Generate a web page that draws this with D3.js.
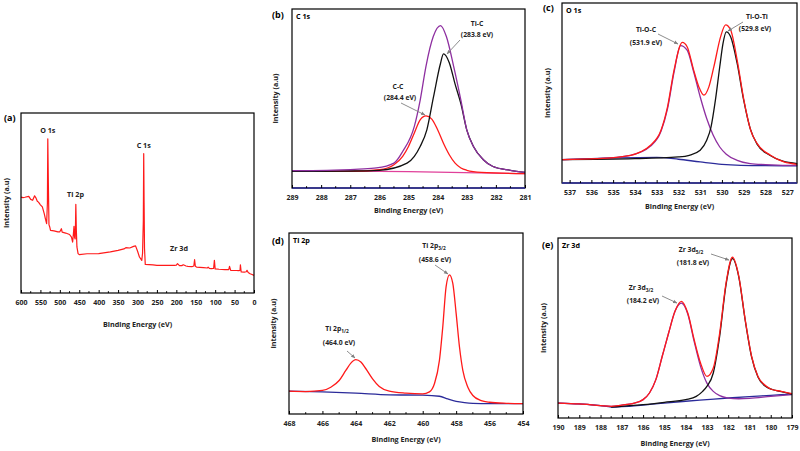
<!DOCTYPE html>
<html><head><meta charset="utf-8">
<script src="https://cdn.jsdelivr.net/npm/d3@7"></script>
<style>
html,body{margin:0;padding:0;background:#fff;}
svg{display:block;font-family:"Open Sans",sans-serif;font-weight:700;}
</style></head>
<body><svg id="chart" width="800" height="451"></svg>
<script>
// ---------------- DATA ----------------
// (a) survey spectrum: [binding energy, intensity]
const surveySpectrum = [[600,53.3],[595,53],[590,53.2],[580,53.7],[575,52],[570,51.5],[565,54],[562,53],[558,51],[555,50.5],[550,49],[545,47.8],[540,44],[537,41],[534,38.5],[532,50],[531,85.7],[529.5,60],[528,38],[526,36.7],[524,34.8],[515,34.5],[505,34],[500,34],[496,35.7],[494,33.8],[485,33.3],[475,32.5],[470,31.1],[467,28.3],[465,33],[463.5,37],[462,31],[460.5,30],[459.5,40],[458.8,49.3],[457.5,35],[456,25.6],[453,21.9],[450,21.3],[430,21.8],[400,21.9],[370,22.8],[350,23.7],[335,24.5],[330,25.2],[320,25],[310,25.9],[305,26.2],[300,23.3],[295,20],[292,19.1],[289,18.1],[287,22],[285,40],[284,77.4],[283,50],[282,25],[280,15.9],[260,15.6],[250,15.4],[220,15.4],[205,15.3],[200,15.5],[197,16.3],[192,15.2],[186,15.2],[182,15.7],[175,15],[170,14.8],[160,14.6],[155,15],[153,18.5],[151,14.8],[148,14.4],[130,14.1],[120,13.9],[118,14.4],[115,13.7],[110,13.5],[104,13.6],[102,18.1],[100,13.4],[90,13.2],[75,13],[65,13],[63,14.8],[60,12.6],[45,12.5],[40,12.4],[36,12.6],[35,15.7],[33,11.7],[25,11.6],[20,11.8],[18,12.6],[15,11.4],[10,10.7],[5,10.3],[0,9.8]];
const surveyLabels = ["O 1s","Ti 2p","C 1s","Zr 3d"];

// (b) C 1s
const c1sEnvelope = [[289,9.7],[287.8,9.9],[286.7,10.6],[286.1,11.2],[285.5,13.9],[285.2,20.4],[284.8,34.4],[284.6,49],[284.4,68],[284.15,84.6],[283.9,90.7],[283.7,84.6],[283.45,68],[283.2,49],[283.0,32.5],[282.77,23.2],[282.43,15.8],[282.1,12],[281.5,9.9],[281,8.7]];
const c1sTiC = [[289,9.3],[287,9.5],[286,9.9],[285.05,13.9],[284.8,17.7],[284.6,23.2],[284.37,32.5],[284.14,51],[283.9,69.7],[283.8,74.9],[283.6,70],[283.4,58],[283.2,47],[283.0,32.5],[282.77,23.2],[282.43,15.8],[282.1,12],[281.5,9.9],[281,8.7]];
const c1sCC = [[289,9.3],[287,9.3],[286,10.2],[285.5,13],[285.2,17.7],[285.0,23.2],[284.8,30.7],[284.6,38.1],[284.4,40.3],[284.2,38.5],[284.0,32.5],[283.8,25],[283.6,18.6],[283.4,13.9],[283.2,11.2],[283,9.9],[282.5,8.7],[281,8]];
const c1sBaseline = [[289,9.7],[285,9.1],[281,8]];

// (c) O 1s
const o1sEnvelope = [[537.34,13],[535.73,13.5],[534.2,15.4],[533.74,17.3],[533.28,21],[532.8,29.3],[532.5,42.3],[532.2,62.7],[531.82,78.1],[531.6,75.7],[531.3,62.7],[531.06,53.4],[530.83,48.8],[530.6,53.4],[530.37,64.6],[530.06,81.3],[529.83,87.8],[529.6,85],[529.3,68.3],[528.99,46],[528.68,29.3],[528.38,21.9],[527.77,15.4],[527.15,11.7],[526.54,10.4]];
const o1sTiOC = [[537.34,13],[535.73,13.5],[534.2,15.4],[533.28,20.5],[532.8,28.7],[532.5,41.3],[532.2,61.6],[531.9,76.3],[531.6,73.8],[531.3,61.8],[531.0,47.9],[530.7,35.8],[530.4,26.5],[530.1,20],[529.8,16],[529.3,12.6],[528.7,10.8],[528,10.2],[527,9.8],[526.54,9.8]];
const o1sTiOTi = [[537.34,13],[534,13.5],[532,14.5],[531.5,15.4],[531,18.2],[530.7,23.7],[530.5,31.2],[530.3,46],[530.1,64.6],[529.95,77.6],[529.8,84],[529.6,81.3],[529.3,66.4],[529.0,46],[528.7,30.2],[528.4,21.9],[527.8,15.4],[527.2,12.1],[526.54,10.8]];
const o1sBaseline = [[537.34,13],[533,14.2],[532,13.2],[531,11.7],[530,10.4],[528,9.6],[526.54,9.5]];

// (d) Ti 2p
const ti2pEnvelope = [[468,12.6],[467,12.4],[466,13],[465.5,14.8],[465,18.5],[464.6,24.1],[464.3,28.1],[464,30],[463.7,28.7],[463.4,25],[463,19.4],[462.6,15.2],[462,12.6],[461,11.5],[460,11.1],[459.6,12.2],[459.3,16.7],[459,29.6],[458.8,48.1],[458.6,70.4],[458.4,76.9],[458.2,72.2],[458,55.6],[457.8,37],[457.6,24.1],[457.3,14.8],[457,10.2],[456.5,7.4],[456,6.5],[455,5.9],[454,5.7]];
const ti2pBaseline = [[468,12.6],[466,12.2],[464,11.5],[462,10.6],[460,10.4],[459,9.8],[458.5,8.3],[458,7],[457.5,6.3],[457,5.9],[456,5.7],[454,5.7]];

// (e) Zr 3d
const zr3dEnvelope = [[190,8.3],[189,7.8],[188,6.9],[187.5,6.5],[187,7.2],[186.5,8],[186,10.2],[185.7,13.9],[185.4,21.3],[185.1,34.3],[184.8,47.2],[184.5,59.3],[184.2,64.8],[183.9,58.3],[183.6,43.5],[183.3,30.6],[183.0,23.1],[182.7,27.8],[182.4,47.2],[182.1,75],[181.8,89.3],[181.5,78.7],[181.2,54.6],[180.9,34.3],[180.6,23.1],[180.2,17.6],[180,16.1],[179.5,14.8],[179,13.5]];
const zr3dPeak32 = [[190,8.3],[189,7.8],[188,6.9],[187.5,6.5],[187,7.2],[186.5,8],[186,10.2],[185.7,13.9],[185.4,21.3],[185.1,34.3],[184.8,47.2],[184.5,59.3],[184.2,63.8],[183.9,57.8],[183.6,42.6],[183.3,28.7],[183,19.4],[182.7,14.8],[182.4,12.4],[182,11.1],[181.5,10.7],[181,10.9],[180,12],[179,13]];
const zr3dPeak52 = [[187.5,6.1],[186,7.4],[185,8.7],[184,10.2],[183.5,12],[183.2,14.8],[183,17.6],[182.7,25],[182.4,45.4],[182.1,74.1],[181.8,88.5],[181.5,78.3],[181.2,54.3],[180.9,33.9],[180.6,22.8],[180.2,17.2],[179.5,14.6],[179,13.3]];
const zr3dBaseline = [[190,8.3],[188,6.9],[187.5,6.1],[186,7.2],[185,8.3],[184,9.3],[183,10.2],[182,11.1],[181,11.9],[180,12.6],[179,13.3]];

// tick labels
const ticksA = [600,550,500,450,400,350,300,250,200,150,100,50,0];
const ticksB = [289,288,287,286,285,284,283,282,281];
const ticksC = [537,536,535,534,533,532,531,530,529,528,527];
const ticksD = [468,466,464,462,460,458,456,454];
const ticksE = [190,189,188,187,186,185,184,183,182,181,180,179];
const panelLetters = ["(a)","(b)","(c)","(d)","(e)"];
const panelTitles = ["","C 1s","O 1s","Ti 2p","Zr 3d"];

// ---------------- DRAW ----------------
const svg = d3.select("#chart");
const RED="#ff1a1a", BLACK="#111", PURPLE="#8e2fa0", BLUE="#2b2b9a", MAG="#e0409a", GRAY="#808080";
const FONT = "'Open Sans',sans-serif";

svg.append("defs").append("marker").attr("id","arr").attr("viewBox","0 0 10 10")
  .attr("refX",9).attr("refY",5).attr("markerWidth",5).attr("markerHeight",5).attr("orient","auto")
  .append("path").attr("d","M0,1 L10,5 L0,9 Z").attr("fill",GRAY);

function txt(g,x,y,s,size,anchor){
  return g.append("text").attr("x",x).attr("y",y).attr("text-anchor",anchor||"middle")
    .attr("font-family",FONT).attr("font-weight",700).attr("font-size",size).attr("fill","#222").text(s);
}

function panel(cfg){
  const g = svg.append("g");
  const x = d3.scaleLinear().domain(cfg.domain).range([cfg.l,cfg.r]);
  const y = d3.scaleLinear().domain([0,100]).range([cfg.b,cfg.t]);
  const line = d3.line().x(d=>x(d[0])).y(d=>y(d[1])).curve(cfg.curve||d3.curveMonotoneX);
  cfg.series.forEach(s=>{
    const pts = s.data.slice().sort((p,q)=>x(p[0])-x(q[0]));
    g.append("path").attr("d",line(pts)).attr("fill","none")
      .attr("stroke",s.color).attr("stroke-width",s.w||1.3).attr("stroke-linejoin","round");
  });
  g.append("rect").attr("x",cfg.l).attr("y",cfg.t).attr("width",cfg.r-cfg.l).attr("height",cfg.b-cfg.t)
    .attr("fill","none").attr("stroke","#000").attr("stroke-width",1.2);
  if(cfg.axisColor){
    g.append("line").attr("x1",cfg.l).attr("x2",cfg.r).attr("y1",cfg.b).attr("y2",cfg.b)
      .attr("stroke",cfg.axisColor).attr("stroke-width",1.4);
  }
  const ax = d3.axisBottom(x).tickValues(cfg.ticks).tickSize(-3).tickPadding(7).tickFormat(d3.format("d"));
  const axg = g.append("g").attr("transform",`translate(0,${cfg.b})`).call(ax);
  axg.select(".domain").remove();
  axg.attr("font-family",FONT).attr("font-size",7);
  axg.selectAll(".tick line").attr("stroke","#000");
  axg.selectAll("text").attr("font-size",7).attr("font-weight",700).attr("fill","#222").attr("font-family",FONT);
  g.selectAll(null).data(cfg.minor).enter().append("line")
    .attr("x1",d=>x(d)).attr("x2",d=>x(d)).attr("y1",cfg.b).attr("y2",cfg.b-1.8).attr("stroke","#000");
  txt(g,(cfg.l+cfg.r)/2,cfg.xt,"Binding Energy (eV)",7.2);
  txt(g,0,0,"Intensity (a.u)",7.2).attr("transform",`translate(${cfg.yx},${(cfg.t+cfg.b)/2}) rotate(-90)`);
  txt(g,cfg.lx,cfg.ly,cfg.letter,9,"start").attr("fill","#000");
  if(cfg.title) txt(g,cfg.l+4,cfg.t+10,cfg.title,7.2,"start").attr("fill","#000");
  return {g,x,y};
}

function range(a,b,s){const r=[];for(let v=a;s>0?v<=b+1e-9:v>=b-1e-9;v+=s)r.push(+v.toFixed(3));return r;}

function subLabel(g,x,y,main,sub){
  const t = txt(g,x,y,"",6.8);
  t.append("tspan").text(main);
  t.append("tspan").attr("font-size",4.8).attr("dy",2).text(sub);
}
function arrow(g,x1,y1,x2,y2){
  g.append("line").attr("x1",x1).attr("y1",y1).attr("x2",x2).attr("y2",y2)
    .attr("stroke",GRAY).attr("stroke-width",0.9).attr("marker-end","url(#arr)");
}

// (a)
const A = panel({l:21,r:254,t:113,b:293,domain:[600,0],ticks:ticksA,minor:range(575,25,-50),
  curve:d3.curveLinear, series:[{data:surveySpectrum,color:RED,w:1.2}],
  xt:327,yx:9,lx:4,ly:121,letter:panelLetters[0]});
[[531,88],[459.5,52],[284,79.5],[193,22]].forEach((p,i)=>{
  txt(A.g,A.x(p[0]),A.y(p[1])-2,surveyLabels[i],7.2);
});

// (b)
const B = panel({l:292,r:525,t:9,b:188,domain:[289,281],ticks:ticksB,minor:range(288.5,281.5,-1),
  series:[{data:c1sBaseline,color:MAG},{data:c1sCC,color:RED},{data:c1sTiC,color:BLACK},{data:c1sEnvelope,color:PURPLE}],
  axisColor:BLUE,xt:213,yx:278,lx:272,ly:18,letter:panelLetters[1],title:panelTitles[1]});
txt(B.g,477,26,"Ti-C",6.8); txt(B.g,477,37,"(283.8 eV)",6.8);
arrow(B.g,460,40,447,54);
txt(B.g,398,89,"C-C",6.8); txt(B.g,400,100,"(284.4 eV)",6.8);
arrow(B.g,401,103,425,115);

// (c)
const C = panel({l:562,r:797,t:3,b:183,domain:[537.35,526.55],ticks:ticksC,minor:range(536.5,527,-1),
  series:[{data:o1sBaseline,color:BLUE},{data:o1sTiOC,color:PURPLE},{data:o1sTiOTi,color:BLACK},{data:o1sEnvelope,color:RED}],
  axisColor:BLUE,xt:209,yx:550,lx:543,ly:11,letter:panelLetters[2],title:panelTitles[2]});
txt(C.g,646,32,"Ti-O-C",6.8); txt(C.g,646,45,"(531.9 eV)",6.8);
arrow(C.g,658,34,678,44);
txt(C.g,757,19,"Ti-O-Ti",6.8); txt(C.g,755,31,"(529.8 eV)",6.8);
arrow(C.g,743,22,728,31);

// (d)
const D = panel({l:289,r:523,t:233,b:414,domain:[468,454],ticks:ticksD,minor:range(467,455,-2),
  series:[{data:ti2pBaseline,color:BLUE},{data:ti2pEnvelope,color:RED}],
  xt:442,yx:276,lx:272,ly:244,letter:panelLetters[3],title:panelTitles[3]});
subLabel(D.g,434,248,"Ti 2p","3/2");
subLabel(D.g,337,331,"Ti 2p","1/2");
txt(D.g,435,262,"(458.6 eV)",6.8);
arrow(D.g,435,265,448,274);
txt(D.g,339,345,"(464.0 eV)",6.8);
arrow(D.g,347,351,355,358);

// (e)
const E = panel({l:558,r:792,t:238,b:418,domain:[190,179],ticks:ticksE,minor:range(189.5,179.5,-1),
  series:[{data:zr3dBaseline,color:BLUE},{data:zr3dPeak32,color:PURPLE},{data:zr3dPeak52,color:BLACK},{data:zr3dEnvelope,color:RED}],
  xt:446,yx:546,lx:542,ly:248,letter:panelLetters[4],title:panelTitles[4]});
subLabel(E.g,691,252,"Zr 3d","5/2");
subLabel(E.g,641,290,"Zr 3d","3/2");
txt(E.g,693,265,"(181.8 eV)",6.8);
arrow(E.g,711,254,729,260);
txt(E.g,643,303,"(184.2 eV)",6.8);
arrow(E.g,662,296,677,303);
</script></body></html>
